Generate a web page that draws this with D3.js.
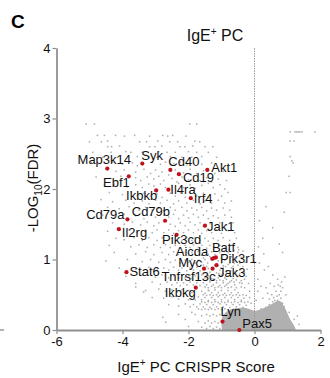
<!DOCTYPE html>
<html>
<head>
<meta charset="utf-8">
<script src="https://cdn.jsdelivr.net/npm/d3@7"></script>
<style>
  html, body { margin: 0; padding: 0; background: #fff; }
  svg { display: block; font-family: "Liberation Sans", Arial, sans-serif; }
</style>
</head>
<body>
<svg id="chart" width="330" height="378"></svg>
<script>
// ---------------- DATA ----------------
const xTicks = [-6, -4, -2, 0, 2];
const yTicks = [0, 1, 2, 3, 4];

const genes  = ["Map3k14","Syk","Cd40","Akt1","Cd19","Ebf1","Ikbkb","Il4ra","Irf4","Cd79a","Cd79b","Il2rg","Jak1","Pik3cd","Aicda","Batf","Pik3r1","Myc","Tnfrsf13c","Jak3","Stat6","Ikbkg","Lyn","Pax5"];
const geneScore = [-4.46,-3.40,-2.55,-1.43,-2.29,-3.81,-2.98,-2.61,-1.93,-3.85,-2.71,-4.11,-1.50,-2.36,-1.28,-1.17,-1.23,-1.53,-1.27,-1.15,-3.88,-1.78,-0.97,-0.46];
const geneFDR   = [2.29,2.36,2.27,2.27,2.21,2.18,1.98,1.99,1.87,1.57,1.55,1.43,1.48,1.35,1.01,1.03,1.02,0.87,0.87,0.92,0.82,0.60,0.12,0.00];

// background screen hits (score, -log10 FDR)
const cloudPoints = [
 [-5.10,2.92],[-4.85,2.92],[-1.96,2.92],[-1.75,2.92],
 [-4.76,2.76],[-4.55,2.76],[-4.21,2.76],[-3.94,2.75],[-3.63,2.76],[-3.18,2.75],[-2.78,2.76],[-2.63,2.75],[-2.48,2.76],[-2.08,2.75],
 [-5.0,2.67],[-4.64,2.67],[-4.45,2.68],[-3.48,2.67],[-3.27,2.67],[-2.93,2.68],[-2.57,2.67],[-2.33,2.67],[-1.81,2.68],[-1.66,2.67],
 [-4.45,2.60],[-4.33,2.60],[-4.09,2.61],[-3.18,2.60],[-3.02,2.60],[-2.81,2.61],[-2.26,2.60],[-2.11,2.60],[-1.87,2.61],[-1.50,2.60],[-1.26,2.60],
 [-4.9,2.52],[-4.35,2.52],[-3.9,2.53],[-3.75,2.52],[-3.4,2.52],[-2.9,2.53],[-2.65,2.52],[-2.4,2.52],[-2.0,2.53],[-1.75,2.52],[-1.4,2.52],
 [-4.6,2.45],[-4.15,2.45],[-3.55,2.46],[-3.2,2.45],[-2.95,2.45],[-2.55,2.46],[-2.2,2.45],[-1.9,2.45],[-1.6,2.46],[-1.15,2.45],
 [-4.95,2.38],[-4.7,2.36],[-4.3,2.38],[-4.0,2.35],[-3.7,2.37],[-3.55,2.33],[-3.1,2.38],[-2.85,2.35],[-2.7,2.38],[-2.45,2.36],[-2.25,2.38],[-2.05,2.34],[-1.85,2.37],[-1.6,2.35],[-1.3,2.37],[-1.0,2.35],
 [-4.5,2.28],[-4.2,2.25],[-3.95,2.27],[-3.6,2.24],[-3.35,2.28],[-3.15,2.22],[-3.0,2.27],[-2.8,2.24],[-2.6,2.2],[-2.4,2.27],[-2.15,2.23],[-1.95,2.28],[-1.75,2.22],[-1.55,2.26],[-1.2,2.22],[-0.95,2.25],
 [-4.8,2.17],[-4.35,2.15],[-4.05,2.18],[-3.6,2.16],[-3.45,2.12],[-3.25,2.17],[-3.05,2.14],[-2.9,2.18],[-2.75,2.12],[-2.5,2.15],[-2.35,2.1],[-2.2,2.17],[-2.0,2.13],[-1.85,2.18],[-1.65,2.12],[-1.45,2.16],[-1.3,2.1],[-1.1,2.14],[-0.85,2.12],
 [-4.55,2.05],[-4.25,2.07],[-3.85,2.03],[-3.6,2.06],[-3.4,2.02],[-3.2,2.07],[-3.05,2.04],[-2.85,2.07],[-2.7,2.02],[-2.5,2.05],[-2.3,2.08],[-2.15,2.02],[-1.95,2.06],[-1.8,2.01],[-1.6,2.05],[-1.4,2.08],[-1.25,2.02],[-1.05,2.06],[-0.9,2.0],
 [-4.4,1.95],[-4.0,1.92],[-3.75,1.96],[-3.55,1.9],[-3.35,1.94],[-3.15,1.9],[-2.95,1.93],[-2.8,1.88],[-2.55,1.94],[-2.4,1.9],[-2.25,1.95],[-2.1,1.88],[-1.95,1.95],[-1.75,1.9],[-1.55,1.94],[-1.4,1.88],[-1.2,1.93],[-1.0,1.9],[-0.8,1.95],
 [-4.65,1.85],[-4.3,1.82],[-3.9,1.84],[-3.65,1.8],[-3.4,1.83],[-3.2,1.79],[-3.0,1.84],[-2.85,1.8],[-2.65,1.84],[-2.45,1.79],[-2.3,1.83],[-2.05,1.8],[-1.85,1.84],[-1.65,1.79],[-1.5,1.83],[-1.3,1.8],[-1.1,1.84],[-0.9,1.8],[-0.7,1.83],
 [-4.45,1.74],[-4.1,1.72],[-3.8,1.75],[-3.5,1.7],[-3.3,1.74],[-3.1,1.7],[-2.9,1.73],[-2.75,1.69],[-2.55,1.74],[-2.4,1.7],[-2.2,1.74],[-2.05,1.69],[-1.9,1.73],[-1.75,1.7],[-1.6,1.74],[-1.45,1.69],[-1.3,1.73],[-1.15,1.7],[-0.95,1.73],[-0.75,1.7],
 [-4.6,1.63],[-4.25,1.6],[-3.95,1.64],[-3.6,1.62],[-3.35,1.58],[-3.15,1.63],[-3.0,1.6],[-2.85,1.64],[-2.6,1.6],[-2.45,1.64],[-2.3,1.58],[-2.15,1.63],[-2.0,1.59],[-1.85,1.64],[-1.7,1.6],[-1.55,1.63],[-1.4,1.58],[-1.25,1.62],[-1.1,1.59],[-0.9,1.63],[-0.7,1.6],
 [-4.3,1.52],[-3.95,1.5],[-3.7,1.53],[-3.45,1.49],[-3.25,1.53],[-3.05,1.48],[-2.9,1.52],[-2.55,1.5],[-2.4,1.47],[-2.25,1.52],[-2.1,1.48],[-1.95,1.53],[-1.8,1.49],[-1.65,1.52],[-1.55,1.47],[-1.35,1.51],[-1.2,1.48],[-1.05,1.52],[-0.85,1.49],[-0.65,1.52],
 [-4.45,1.4],[-3.8,1.42],[-3.55,1.38],[-3.3,1.42],[-3.1,1.38],[-2.95,1.42],[-2.75,1.38],[-2.6,1.42],[-2.45,1.37],[-2.3,1.41],[-2.15,1.38],[-2.0,1.42],[-1.85,1.38],[-1.7,1.42],[-1.6,1.37],[-1.45,1.41],[-1.3,1.38],[-1.15,1.42],[-1.0,1.37],[-0.8,1.41],[-0.6,1.38],
 [-4.2,1.3],[-3.95,1.28],[-3.65,1.31],[-3.4,1.27],[-3.2,1.31],[-2.95,1.27],[-2.8,1.31],[-2.65,1.27],[-2.5,1.3],[-2.2,1.27],[-2.05,1.31],[-1.9,1.27],[-1.8,1.31],[-1.65,1.27],[-1.5,1.3],[-1.4,1.26],[-1.25,1.3],[-1.1,1.27],[-0.95,1.31],[-0.75,1.27],[-0.55,1.3],
 [-4.4,1.2],[-3.75,1.18],[-3.5,1.21],[-3.25,1.17],[-3.05,1.21],[-2.85,1.17],[-2.7,1.21],[-2.55,1.17],[-2.4,1.2],[-2.25,1.16],[-2.1,1.2],[-1.95,1.17],[-1.85,1.21],[-1.7,1.17],[-1.6,1.2],[-1.45,1.16],[-1.35,1.2],[-1.2,1.17],[-1.05,1.2],[-0.9,1.16],[-0.7,1.2],[-0.5,1.17],
 [-4.25,1.1],[-3.6,1.08],[-3.3,1.11],[-3.05,1.07],[-2.8,1.1],[-2.6,1.07],[-2.45,1.11],[-2.3,1.07],[-2.15,1.1],[-2.0,1.06],[-1.9,1.1],[-1.8,1.07],[-1.7,1.11],[-1.6,1.06],[-1.5,1.1],[-1.4,1.07],[-1.3,1.11],[-1.2,1.07],[-1.05,1.1],[-0.95,1.06],[-0.8,1.1],[-0.65,1.07],[-0.5,1.1],
 [-4.5,0.98],[-3.85,1.0],[-3.4,0.97],[-3.15,1.0],[-2.9,0.96],[-2.7,1.0],[-2.55,0.96],[-2.4,0.99],[-2.25,0.95],[-2.1,0.99],[-2.0,0.96],[-1.9,1.0],[-1.8,0.95],[-1.7,0.99],[-1.6,0.96],[-1.5,1.0],[-1.42,0.95],[-1.1,0.98],[-1.0,0.95],[-0.9,0.99],[-0.75,0.95],[-0.6,0.98],[-0.45,0.95],
 [-4.1,0.88],[-3.6,0.86],[-3.2,0.89],[-2.95,0.85],[-2.75,0.88],[-2.6,0.85],[-2.45,0.89],[-2.3,0.85],[-2.2,0.88],[-2.05,0.84],[-1.95,0.88],[-1.85,0.85],[-1.75,0.89],[-1.65,0.84],[-1.4,0.87],[-1.05,0.85],[-0.95,0.88],[-0.85,0.84],[-0.7,0.88],[-0.55,0.84],
 [-3.9,0.76],[-3.4,0.78],[-3.0,0.75],[-2.8,0.78],[-2.6,0.74],[-2.45,0.77],[-2.3,0.74],[-2.2,0.78],[-2.1,0.74],[-2.0,0.77],[-1.9,0.73],[-1.8,0.77],[-1.7,0.74],[-1.6,0.78],[-1.5,0.74],[-1.4,0.77],[-1.3,0.73],[-1.2,0.77],[-1.1,0.74],[-1.0,0.78],[-0.9,0.74],[-0.8,0.77],[-0.65,0.73],[-0.5,0.76],
 [-3.6,0.66],[-3.1,0.68],[-2.85,0.65],[-2.65,0.68],[-2.5,0.64],[-2.35,0.67],[-2.25,0.63],[-2.15,0.67],[-2.05,0.64],[-1.95,0.68],[-1.85,0.64],[-1.75,0.67],[-1.65,0.63],[-1.55,0.67],[-1.45,0.64],[-1.35,0.68],[-1.25,0.64],[-1.15,0.67],[-1.05,0.63],[-0.95,0.67],[-0.85,0.64],[-0.75,0.68],[-0.6,0.64],[-0.45,0.67],
 [-3.3,0.56],[-2.9,0.58],[-2.7,0.55],[-2.5,0.57],[-2.35,0.54],[-2.2,0.57],[-2.1,0.53],[-2.0,0.56],[-1.9,0.53],[-1.6,0.55],[-1.5,0.52],[-1.4,0.56],[-1.3,0.53],[-1.2,0.57],[-1.1,0.53],[-1.0,0.56],[-0.9,0.52],[-0.8,0.56],[-0.7,0.53],[-0.6,0.57],[-0.5,0.53],
 [-3.1,0.46],[-2.75,0.45],[-2.5,0.47],[-2.3,0.44],[-2.15,0.47],[-2.0,0.43],[-1.9,0.46],[-1.8,0.43],[-1.7,0.47],[-1.6,0.43],[-1.5,0.46],[-1.4,0.42],[-1.3,0.46],[-1.2,0.43],[-1.1,0.47],[-1.0,0.43],[-0.9,0.46],[-0.8,0.42],[-0.7,0.46],[-0.6,0.43],[-0.5,0.46],[-0.4,0.42],
 [-2.6,0.36],[-2.3,0.34],[-2.1,0.37],[-1.95,0.33],[-1.85,0.36],[-1.75,0.33],[-1.65,0.37],[-1.55,0.33],[-1.45,0.36],[-1.35,0.32],[-1.25,0.36],[-1.15,0.33],[-1.05,0.37],[-0.95,0.33],[-0.85,0.36],[-0.75,0.32],[-0.65,0.36],[-0.55,0.33],[-0.45,0.36],[-0.35,0.32],[-0.25,0.35],
 [-1.55,1.02],[-1.35,1.04],[-1.15,1.03],[-0.85,1.02],[-0.7,1.04],[-0.55,1.02],[-0.4,1.03],
 [-1.55,0.92],[-1.45,0.9],[-1.2,0.92],[-0.95,0.91],[-0.8,0.93],[-0.65,0.9],[-0.5,0.92],[-0.35,0.9],
 [-1.55,0.81],[-1.45,0.8],[-1.35,0.82],[-1.15,0.81],[-0.95,0.8],[-0.85,0.82],[-0.75,0.8],[-0.6,0.82],[-0.45,0.8],[-0.3,0.82],
 [-1.45,0.71],[-1.35,0.7],[-1.25,0.72],[-1.15,0.7],[-1.05,0.71],[-0.95,0.7],[-0.85,0.72],[-0.7,0.7],[-0.55,0.71],[-0.4,0.7],[-0.3,0.72],
 [-1.5,0.61],[-1.4,0.6],[-1.3,0.62],[-1.2,0.6],[-1.1,0.61],[-1.0,0.6],[-0.9,0.62],[-0.8,0.6],[-0.7,0.61],[-0.55,0.6],[-0.4,0.61],[-0.3,0.6],
 [-1.55,0.5],[-1.45,0.49],[-1.35,0.5],[-1.25,0.49],[-1.15,0.5],[-1.05,0.49],[-0.95,0.5],[-0.85,0.49],[-0.75,0.5],[-0.65,0.49],[-0.55,0.5],[-0.45,0.49],[-0.35,0.5],[-0.25,0.49],
 [-1.6,0.4],[-1.5,0.39],[-1.4,0.4],[-1.3,0.39],[-1.2,0.4],[-1.1,0.39],[-1.0,0.4],[-0.9,0.39],[-0.8,0.4],[-0.7,0.39],[-0.6,0.4],[-0.5,0.39],[-0.4,0.4],[-0.3,0.39],[-0.2,0.4],[-0.1,0.38],
 [-1.7,0.3],[-1.6,0.29],[-1.5,0.3],[-1.4,0.29],[-1.3,0.3],[-1.2,0.29],[-1.1,0.3],[-1.0,0.29],[-0.9,0.3],
 [-1.8,0.22],[-1.6,0.2],[-1.45,0.22],[-1.35,0.2],[-1.25,0.22],[-1.15,0.2],[-1.05,0.22],
 [-1.7,0.12],[-1.5,0.1],[-1.4,0.13],[-1.3,0.1],[-1.2,0.12],[-1.1,0.1],[-1.0,0.13],
 [-1.6,0.04],[-1.45,0.02],[-1.35,0.05],[-1.25,0.02],[-1.15,0.04],[-1.05,0.02],
 [-2.1,0.15],[-2.3,0.22],[-2.69,0.11],[-2.78,0.18],[-3.6,0.61],[-3.36,0.54],[-2.0,0.05],[-1.9,0.25],
 [-0.92,1.12],[-0.78,1.14],[-0.62,1.13],[-0.48,1.14],[-0.35,1.12],[-1.0,1.02],[-0.62,0.95],[-0.28,0.96],[-0.22,0.86],[-0.25,0.76],[-0.18,0.66],[-0.15,0.55],
 [-1.02,0.88],[-0.88,0.9],[-0.72,0.84],[-0.42,0.86],[-1.08,0.8],[-0.52,0.76],[-0.38,0.66],[-0.62,0.68],[-0.8,0.66],[-1.38,0.56],[-0.32,0.45],[-0.15,0.46],
 [0.15,0.95],[0.3,0.85],[0.42,0.9],[0.55,0.78],[0.7,0.72],[0.6,0.62],[0.85,0.6],[0.92,0.75],[0.48,0.66],[0.4,0.52],[0.52,0.5],[0.65,0.55],[0.75,0.5],[0.8,0.45],[0.7,0.42],[0.62,0.42],[0.55,0.4],[0.45,0.36],[0.85,0.38],[0.9,0.33],[0.35,0.32],[0.2,0.3],[0.78,0.62],[0.82,0.68],[0.72,0.64],[0.58,0.46],[0.68,0.48],[0.45,0.44],[0.8,0.55],[1.05,0.25],[1.2,0.15],[1.35,0.08],[1.3,0.2],[0.1,0.72],[0.12,1.18],[0.28,1.08],[0.1,0.55],[0.25,0.45],[0.05,0.42],[0.95,0.5],[0.35,0.6],[0.2,0.62],
 [0.25,1.3],[0.55,1.45],[0.75,1.22],[0.85,1.1],[0.9,1.67],[0.96,1.95],[1.08,1.95],[1.05,2.18],[1.08,2.46],[1.13,2.40],[1.17,2.37],[1.08,2.68],[1.2,2.68],[1.08,2.81],[1.23,2.81],[1.28,2.81],[1.33,2.81],[1.38,2.81],[1.44,2.81],[1.83,2.81],[0.35,1.75],[0.15,1.55]
];

// saturated core of the cloud near score 0 (outline, score / -log10 FDR)
const densePatch = [[-0.95,0],[-0.95,0.18],[-0.7,0.28],[-0.3,0.3],[0,0.26],[0.3,0.3],[0.55,0.36],[0.75,0.4],[0.9,0.3],[1.05,0.15],[1.2,0.03],[1.22,0]];

// label placement (styling only): anchor, dx, dy in px relative to the dot
const labelStyle = {
  Map3k14:["middle",-3,-5], Syk:["start",-1,-4], Cd40:["start",-2,-4], Akt1:["start",4,2],
  Cd19:["start",4,8], Ebf1:["end",1,11], Ikbkb:["end",1,10], Il4ra:["start",2,4],
  Irf4:["start",3,5], Cd79a:["end",-3,0], Cd79b:["end",5,-5], Il2rg:["start",3,8],
  Jak1:["start",2,5], Pik3cd:["middle",5,9], Aicda:["end",-4,-3], Batf:["start",-4,-5.5],
  Pik3r1:["start",6,5], Myc:["end",-2,-2], Tnfrsf13c:["end",3,12], Jak3:["start",1.5,12],
  Stat6:["start",3,4], Ikbkg:["end",0,9], Lyn:["start",-2,-6], Pax5:["start",3,-2]
};

// ---------------- CHART ----------------
const svg = d3.select("#chart");
const x = d3.scaleLinear().domain([-6, 2]).range([56.5, 320.5]);
const y = d3.scaleLinear().domain([0, 4]).range([330, 48]);
const axisGrey = "#8f8f8f";

// stray mark at far left (edge of neighbouring panel)
svg.append("line").attr("x1", 0).attr("x2", 4).attr("y1", 330).attr("y2", 330)
  .attr("stroke", "#666").attr("stroke-width", 1);

// panel letter
svg.append("text").attr("x", 11).attr("y", 28).attr("font-size", 19).attr("font-weight", "bold")
  .attr("fill", "#000").text("C");

// title
const title = svg.append("text").attr("x", 215).attr("y", 41).attr("text-anchor", "middle")
  .attr("font-size", 16).attr("fill", "#111");
title.append("tspan").text("IgE");
title.append("tspan").attr("font-size", 10).attr("dy", -6).text("+");
title.append("tspan").attr("dy", 6).text(" PC");

// dense core
svg.append("path").datum(densePatch)
  .attr("d", d3.line().curve(d3.curveCatmullRom).x(d => x(d[0])).y(d => y(d[1])))
  .attr("fill", "#b0b0b0").attr("stroke", "#b0b0b0").attr("stroke-width", 2);

// cloud
svg.append("g").selectAll("rect").data(cloudPoints).join("rect")
  .attr("x", d => x(d[0]) - 0.75).attr("y", d => y(d[1]) - 0.75)
  .attr("width", 1.5).attr("height", 1.5).attr("fill", "#acacac");

// dashed zero line
svg.append("line").attr("x1", x(0)).attr("x2", x(0)).attr("y1", y(4)).attr("y2", y(0))
  .attr("stroke", "#9a9a9a").attr("stroke-width", 1).attr("stroke-dasharray", "1.5,1");

// axes
const gx = svg.append("g").attr("transform", `translate(0,${y(0)})`)
  .call(d3.axisBottom(x).tickValues(xTicks).tickSize(4).tickPadding(3).tickSizeOuter(0).tickFormat(d3.format("d")));
const gy = svg.append("g").attr("transform", `translate(${x(-6)},0)`)
  .call(d3.axisLeft(y).tickValues(yTicks).tickSize(4).tickPadding(2).tickSizeOuter(0).tickFormat(d3.format("d")));
[gx, gy].forEach(g => {
  g.select(".domain").attr("stroke", axisGrey).attr("stroke-width", 1.8);
  g.selectAll(".tick line").attr("stroke", axisGrey).attr("stroke-width", 1.2);
  g.selectAll(".tick text").attr("font-size", 13).attr("fill", "#111")
    .attr("font-family", '"Liberation Sans", Arial, sans-serif')
    .text(d => d < 0 ? "-" + Math.abs(d) : d);
});

// highlighted genes
const hits = genes.map((g, i) => ({ g, s: geneScore[i], f: geneFDR[i] }));
svg.append("g").selectAll("circle").data(hits).join("circle")
  .attr("cx", d => x(d.s)).attr("cy", d => y(d.f)).attr("r", 2.1).attr("fill", "#c0121c");
svg.append("g").selectAll("text").data(hits).join("text")
  .attr("x", d => x(d.s) + labelStyle[d.g][1])
  .attr("y", d => y(d.f) + labelStyle[d.g][2])
  .attr("text-anchor", d => labelStyle[d.g][0])
  .attr("font-size", 13).attr("fill", "#111").text(d => d.g);

// x label
const xl = svg.append("text").attr("x", 196).attr("y", 372).attr("text-anchor", "middle")
  .attr("font-size", 15).attr("fill", "#111");
xl.append("tspan").text("IgE");
xl.append("tspan").attr("font-size", 10).attr("dy", -6).text("+");
xl.append("tspan").attr("dy", 6).text(" PC CRISPR Score");

// y label
const yl = svg.append("text").attr("transform", "translate(38,188) rotate(-90)")
  .attr("text-anchor", "middle").attr("font-size", 15).attr("fill", "#111");
yl.append("tspan").text("-LOG");
yl.append("tspan").attr("font-size", 10).attr("dy", 4).text("10");
yl.append("tspan").attr("dy", -4).text("(FDR)");
</script>
</body>
</html>
